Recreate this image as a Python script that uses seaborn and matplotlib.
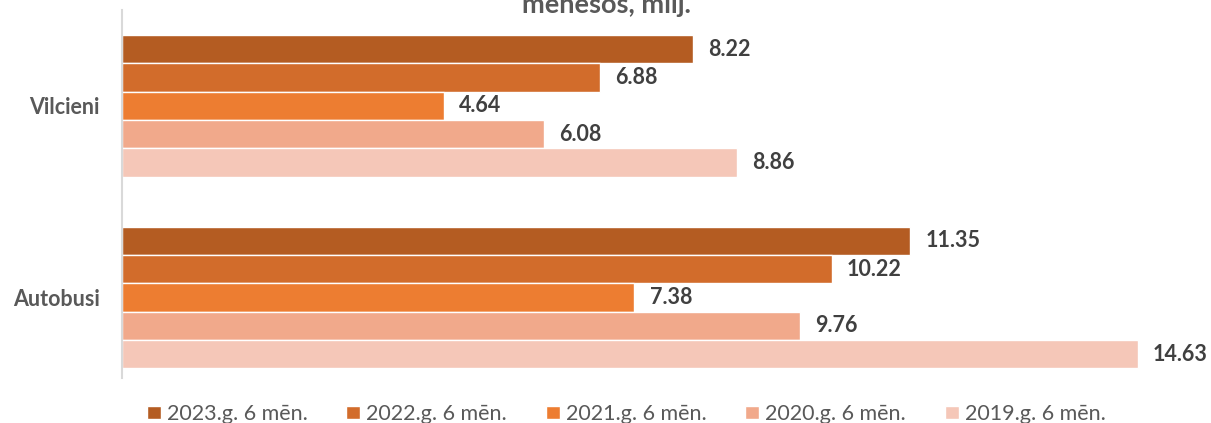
import pandas as pd
import matplotlib.pyplot as plt
import seaborn as sns

veidi = ['Vilcieni', 'Autobusi']
gadi = ['2023.g. 6 mēn.', '2022.g. 6 mēn.', '2021.g. 6 mēn.', '2020.g. 6 mēn.', '2019.g. 6 mēn.']
vilcieni = [8.22, 6.88, 4.64, 6.08, 8.86]
autobusi = [11.35, 10.22, 7.38, 9.76, 14.63]
krasas = ['#B45C22', '#D26C2B', '#ED7D31', '#F1A98B', '#F5C7B8']

rows = []
for g, v, a in zip(gadi, vilcieni, autobusi):
    rows.append({'veids': 'Vilcieni', 'gads': g, 'milj': v})
    rows.append({'veids': 'Autobusi', 'gads': g, 'milj': a})
df = pd.DataFrame(rows)

sns.set_style('white')
plt.rcParams['font.family'] = ['Lato', 'DejaVu Sans']

fig = plt.figure(figsize=(12.11, 4.23), dpi=100)
ax = fig.add_axes([0.1007, 0.1064, 0.860, 0.870])

sns.barplot(data=df, y='veids', x='milj', hue='gads', order=veidi, hue_order=gadi,
            palette=krasas, orient='h', width=0.74, gap=0, saturation=1, ax=ax, legend=True)

# vērtības pie stabiņiem
for cont in ax.containers:
    ax.bar_label(cont, fmt='%.2f', padding=11, fontsize=15.5, fontweight='bold', color='#404040')

ax.set_xlim(0, 15)
ax.set_ylim(1.42, -0.5)
ax.set_xticks([])
ax.set_xlabel('')
ax.set_ylabel('')
for s in ['top', 'right', 'bottom']:
    ax.spines[s].set_visible(False)
ax.spines['left'].set_color('#D9D9D9')
ax.spines['left'].set_linewidth(1.5)
ax.tick_params(axis='y', length=0, pad=16, labelsize=15.5, labelcolor='#595959')
for t in ax.get_yticklabels():
    t.set_fontweight('bold')

handles, labels = ax.get_legend_handles_labels()
ax.get_legend().remove()
fig.legend(handles, labels, loc='center', bbox_to_anchor=(0.517, 0.021), ncol=5, frameon=False,
           fontsize=15.5, handlelength=0.65, handleheight=0.6, handletextpad=0.28, columnspacing=1.8,
           labelcolor='#595959', borderpad=0)

fig.text(0.501, 0.969, 'mēnešos, milj.', ha='center', va='baseline', fontsize=19.5,
         fontweight='bold', color='#595959')

fig.savefig('out.png', dpi=100)
